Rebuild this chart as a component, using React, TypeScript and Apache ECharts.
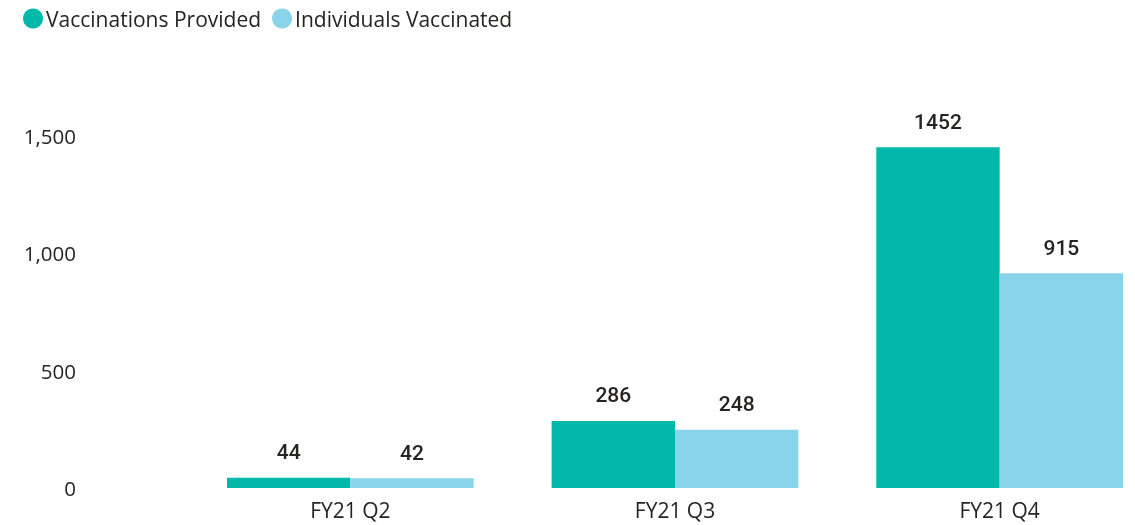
import React, { useEffect, useRef } from "react";
import * as echarts from "echarts";

const categories = ["FY21 Q2", "FY21 Q3", "FY21 Q4"];
const vaccinationsProvided = [44, 286, 1452];
const individualsVaccinated = [42, 248, 915];
const seriesNames = ["Vaccinations Provided", "Individuals Vaccinated"];
const colors = ["#01B8AA", "#8AD4EB"];

export default function App() {
  const ref = useRef<HTMLDivElement>(null);
  useEffect(() => {
    if (!ref.current) return;
    const chart = echarts.init(ref.current, undefined, { renderer: "svg" });
    const labelStyle = {
      show: true,
      position: "top" as const,
      distance: 15,
      fontFamily: "Roboto",
      fontWeight: 500,
      fontSize: 21,
      color: "#252423",
    };
    chart.setOption({
      animation: false,
      color: colors,
      legend: {
        left: 18,
        top: 3,
        icon: "circle",
        itemWidth: 20,
        itemHeight: 20,
        itemGap: 11,
        textStyle: { fontFamily: "Open Sans", fontSize: 21, color: "#252423", padding: [0, 0, 0, -2] },
        data: seriesNames,
      },
      grid: { left: 188, right: 0, top: 136, bottom: 37, containLabel: false },
      xAxis: {
        type: "category",
        data: categories,
        axisLine: { show: false },
        axisTick: { show: false },
        axisLabel: { fontFamily: "Open Sans", fontSize: 21, color: "#252423", margin: 11 },
      },
      yAxis: {
        type: "value",
        min: 0,
        max: 1500,
        interval: 500,
        splitLine: { show: false },
        axisLabel: {
          fontFamily: "Open Sans",
          fontSize: 20.5,
          color: "#252423",
          margin: 112,
          formatter: (v: number) => v.toLocaleString("en-US"),
        },
      },
      series: [
        {
          name: seriesNames[0],
          type: "bar",
          data: vaccinationsProvided,
          barGap: "0%",
          barCategoryGap: "24%",
          label: labelStyle,
        },
        {
          name: seriesNames[1],
          type: "bar",
          data: individualsVaccinated,
          barGap: "0%",
          barCategoryGap: "24%",
          label: labelStyle,
        },
      ],
    });
    return () => chart.dispose();
  }, []);
  return (
    <div style={{ position: "fixed", left: 0, top: 0, width: 1135, height: 525, overflow: "hidden" }}>
      <div ref={ref} style={{ width: 1162, height: 525 }} />
    </div>
  );
}
